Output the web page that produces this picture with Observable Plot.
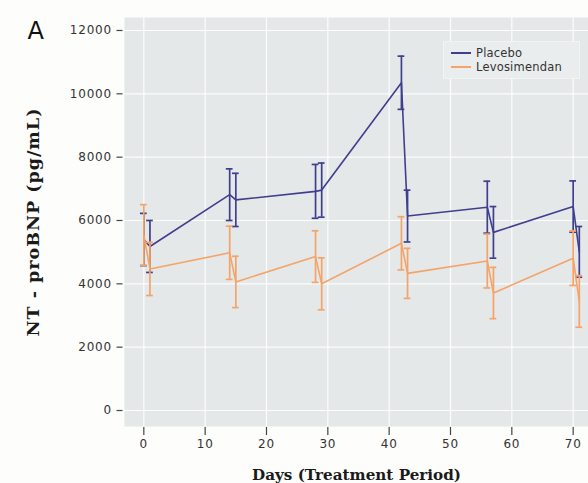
<!DOCTYPE html>
<html>
<head>
<meta charset="utf-8">
<script src="https://cdn.jsdelivr.net/npm/d3@7"></script>
<script src="https://cdn.jsdelivr.net/npm/@observablehq/plot@0.6"></script>
<style>
  html, body { margin: 0; padding: 0; background: #fdfdfb; }
  #wrap { position: relative; width: 588px; height: 483px; overflow: hidden; }
  #wrap svg g[aria-label$="tick label"] text { letter-spacing: 0.8px; }
  #wrap svg text.ytitle { letter-spacing: 1px; }
  .legend { position: absolute; left: 443px; top: 41px; width: 137px; height: 38px;
    background: #eaeded; border: 1px solid #f2f3f3; box-sizing: border-box;
    font-family: "DejaVu Sans", sans-serif; font-size: 11.5px; color: #333; letter-spacing: 0.2px; }
  .legend .row { position: absolute; left: 7px; height: 14px; display: flex; align-items: center; }
  .legend .sw { width: 20px; height: 0; border-top: 2px solid; margin-right: 5px; }
</style>
</head>
<body>
<div id="wrap"></div>
<script>
// ---- data ----
const seriesNames = ["Placebo", "Levosimendan"];
const seriesColors = ["#403e8e", "#f5a368"];
const days = [0, 1, 14, 15, 28, 29, 42, 43, 56, 57, 70, 71];
const placeboMean = [5400, 5180, 6815, 6650, 6920, 6960, 10350, 6140, 6420, 5625, 6440, 5010];
const placeboSD   = [825, 820, 815, 840, 850, 855, 840, 818, 820, 815, 810, 800];
const levoMean    = [5540, 4470, 4980, 4060, 4860, 4000, 5280, 4330, 4720, 3710, 4810, 3445];
const levoSD      = [960, 840, 840, 810, 815, 820, 840, 790, 850, 810, 860, 815];
const xTicks = [0, 10, 20, 30, 40, 50, 60, 70];
const yTicks = [0, 2000, 4000, 6000, 8000, 10000, 12000];
const xTitle = "Days (Treatment Period)";
const yTitle = "NT - proBNP (pg/mL)";
const panelLabel = "A";

// ---- table ----
const rows = [];
days.forEach((d, i) => rows.push({series: "Placebo", day: d, mean: placeboMean[i], sd: placeboSD[i]}));
days.forEach((d, i) => rows.push({series: "Levosimendan", day: d, mean: levoMean[i], sd: levoSD[i]}));
const lo = d => d.mean - d.sd, hi = d => d.mean + d.sd;

const chart = Plot.plot({
  width: 588, height: 483,
  marginLeft: 124, marginRight: 0, marginTop: 17, marginBottom: 57,
  style: {fontFamily: "DejaVu Sans, sans-serif", fontSize: "12px", color: "#333", background: "transparent", overflow: "visible"},
  x: {domain: [-3.15, 72.5]},
  y: {domain: [-505, 12410]},
  color: {domain: seriesNames, range: seriesColors},
  marks: [
    Plot.frame({fill: "#e4e8e8", stroke: null}),
    Plot.gridX(xTicks, {stroke: "#ffffff", strokeOpacity: 0.9, strokeWidth: 1.2}),
    Plot.gridY(yTicks, {stroke: "#ffffff", strokeOpacity: 0.9, strokeWidth: 1.2}),
    Plot.axisX({ticks: xTicks, tickSize: 8, tickPadding: 4, dy: 1, label: null, stroke: "#444", strokeWidth: 1.2, fill: "#333", fontSize: 12}),
    Plot.axisY({ticks: yTicks, tickSize: 6, tickPadding: 5, dx: -1.5, label: null, tickFormat: d3.format("d"), stroke: "#444", strokeWidth: 1.2, fill: "#333", fontSize: 12}),
    ...seriesNames.map(s => {
      const data = rows.filter(r => r.series === s);
      return [
        Plot.line(data, {x: "day", y: "mean", stroke: "series", strokeWidth: 1.6}),
        Plot.ruleX(data, {x: "day", y1: lo, y2: hi, stroke: "series", strokeWidth: 1.7}),
        Plot.ruleY(data, {y: hi, x1: d => d.day - 0.55, x2: d => d.day + 0.55, stroke: "series", strokeWidth: 1.7}),
        Plot.ruleY(data, {y: lo, x1: d => d.day - 0.55, x2: d => d.day + 0.55, stroke: "series", strokeWidth: 1.7})
      ];
    }),
    Plot.text([yTitle], {frameAnchor: "left", dx: -91, rotate: -90, textAnchor: "middle", fontFamily: "DejaVu Serif, serif", fontWeight: "bold", fontSize: 17.5, fill: "#1a1a1a", className: "ytitle"}),
    Plot.text([xTitle], {frameAnchor: "bottom", dy: 53, lineAnchor: "bottom", fontFamily: "DejaVu Serif, serif", fontWeight: "bold", fontSize: 15.2, fill: "#1a1a1a"}),
    Plot.text([panelLabel], {frameAnchor: "top-left", dx: -97, dy: 4, lineAnchor: "top", textAnchor: "start", fontFamily: "DejaVu Sans, sans-serif", fontSize: 24, fill: "#111"})
  ]
});
const wrap = document.getElementById("wrap");
wrap.appendChild(chart);
// letter spacing for y title (className applies to the mark's group)
chart.querySelectorAll(".ytitle text").forEach(t => t.style.letterSpacing = "1px");

// legend
const leg = document.createElement("div");
leg.className = "legend";
seriesNames.forEach((s, i) => {
  const r = document.createElement("div");
  r.className = "row";
  r.style.top = (4 + i * 14.3) + "px";
  const sw = document.createElement("span");
  sw.className = "sw";
  sw.style.borderTopColor = seriesColors[i];
  const t = document.createElement("span");
  t.textContent = s;
  r.appendChild(sw); r.appendChild(t);
  leg.appendChild(r);
});
wrap.appendChild(leg);
</script>
</body>
</html>
